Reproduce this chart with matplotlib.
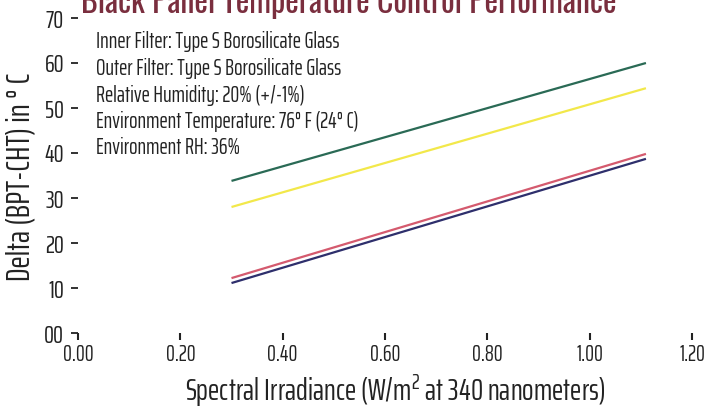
import matplotlib
matplotlib.use("Agg")
import matplotlib.pyplot as plt

# ---- data ----
irradiance = [0.30, 1.11]
series_green = [33.8, 60.0]
series_yellow = [28.0, 54.4]
series_red = [12.2, 39.8]
series_blue = [11.1, 38.7]

x_ticks = [0.0, 0.2, 0.4, 0.6, 0.8, 1.0, 1.2]
x_tick_labels = ["0.00", "0.20", "0.40", "0.60", "0.80", "1.00", "1.20"]
y_ticks = [0, 10, 20, 30, 40, 50, 60, 70]
y_tick_labels = ["00", "10", "20", "30", "40", "50", "60", "70"]

title = "Black Panel Temperature Control Performance"
x_label = "Spectral Irradiance (W/m$^{2}$ at 340 nanometers)"
y_label = "Delta (BPT-CHT) in \u00b0 C"
notes = [
    "Inner Filter: Type S Borosilicate Glass",
    "Outer Filter: Type S Borosilicate Glass",
    "Relative Humidity: 20% (+/-1%)",
    "Environment Temperature: 76\u00b0 F (24\u00b0 C)",
    "Environment RH: 36%",
]

MAIN = "Saira ExtraCondensed"
FONT = [MAIN, "DejaVu Sans"]
plt.rcParams['font.family'] = FONT
plt.rcParams['mathtext.fontset'] = 'custom'
plt.rcParams['mathtext.rm'] = MAIN
plt.rcParams['mathtext.it'] = MAIN
plt.rcParams['mathtext.bf'] = MAIN

fig = plt.figure(figsize=(7.04, 4.15), dpi=100)
ax = fig.add_axes([78 / 704, 82 / 415, 614 / 704, 315 / 415])

ax.plot(irradiance, series_green, color="#2a6a55", lw=1.6, solid_capstyle='butt')
ax.plot(irradiance, series_yellow, color="#f2e84a", lw=1.6, solid_capstyle='butt')
ax.plot(irradiance, series_red, color="#d45a6e", lw=1.6, solid_capstyle='butt')
ax.plot(irradiance, series_blue, color="#2e2f6c", lw=1.6, solid_capstyle='butt')

ax.set_xlim(0, 1.2)
ax.set_ylim(0, 70)
for s in ax.spines.values():
    s.set_visible(False)

ax.set_xticks(x_ticks)
ax.set_xticklabels(x_tick_labels, fontsize=16)
ax.set_yticks(y_ticks)
ax.set_yticklabels(y_tick_labels, fontsize=18)
ax.tick_params(axis='x', direction='out', length=5, width=1.5, pad=3, colors='#222222')
ax.tick_params(axis='y', direction='out', length=5, width=1.3, pad=5, colors='#222222')

ax.set_xlabel(x_label, fontsize=22, color='#222222', labelpad=3)
ax.xaxis.set_label_coords(0.517, -0.125)
fig.text(21 / 704, 1 - 177 / 415, y_label, rotation=90, fontsize=24,
         color='#222222', ha='center', va='center')

for i, line in enumerate(notes):
    fig.text(96 / 704, 1 - (42 + i * 26.5) / 415, line, fontsize=16,
             color='#222222', ha='left', va='center')

fig.text(349 / 704, 1 - 13 / 415, title, fontsize=23, fontweight='bold',
         family=["Oswald", "DejaVu Sans"], color="#7a2e3e",
         ha='center', va='baseline')

fig.savefig("out.png", dpi=100)
